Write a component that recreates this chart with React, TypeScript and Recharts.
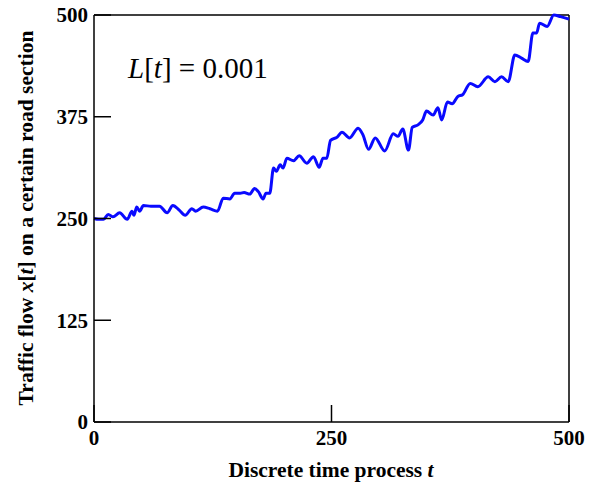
import { LineChart, Line, XAxis, YAxis, ReferenceLine, Customized } from 'recharts';

const timeSteps = [
  0, 5, 10, 15, 20, 27, 35, 40, 42, 45, 48, 52, 60, 69, 77, 83, 90, 96, 103, 107,
  115, 122, 130, 136, 143, 148, 154, 158, 164, 169, 173, 178, 181, 185, 189, 192, 196, 199, 203, 210,
  216, 224, 231, 237, 241, 245, 249, 256, 261, 269, 278, 283, 289, 296, 306, 315, 320, 325, 331, 335,
  341, 346, 350, 357, 362, 366, 372, 377, 383, 388, 396, 404, 415, 422, 429, 436, 443, 450, 457, 462,
  466, 469, 477, 484, 491, 500,
];
const flowValues = [
  250, 249, 249, 255, 252, 257, 249, 259, 254, 264, 259, 266, 265, 265, 257, 266, 260, 254, 262, 259,
  264, 262, 259, 275, 274, 281, 281, 282, 280, 287, 283, 274, 281, 281, 312, 308, 316, 312, 324, 321,
  327, 318, 326, 313, 324, 324, 346, 350, 356, 349, 361, 353, 335, 349, 333, 354, 351, 360, 334, 362,
  365, 371, 382, 377, 386, 371, 393, 391, 400, 402, 416, 412, 424, 418, 424, 418, 451, 447, 443, 478,
  478, 490, 486, 500, 498, 495,
];
const xTicks = [0, 250, 500];
const yTicks = [0, 125, 250, 375, 500];

const data = timeSteps.map((t, i) => ({ t, flow: flowValues[i] }));

const serif = '"Liberation Serif", "Times New Roman", serif';
const tickStyle = { fontFamily: serif, fontWeight: 700, fontSize: 21, fill: '#000' };

function Annotations() {
  return (
    <g fontFamily={serif} fill="#000">
      <text x={128} y={78} fontSize={29}>
        <tspan fontStyle="italic">L</tspan>[<tspan fontStyle="italic">t</tspan>] = 0.001
      </text>
      <text x={331} y={477} fontSize={21.5} fontWeight={700} textAnchor="middle">
        Discrete time process <tspan fontStyle="italic">t</tspan>
      </text>
      <text
        x={0}
        y={0}
        fontSize={21.5}
        fontWeight={700}
        textAnchor="middle"
        transform="translate(33 218) rotate(-90)"
      >
        Traffic flow <tspan fontStyle="italic">x</tspan>[<tspan fontStyle="italic">t</tspan>] on a certain road section
      </text>
    </g>
  );
}

export default function App() {
  return (
    <div style={{ position: 'absolute', left: 0, top: 0, background: '#fff' }}>
      <LineChart
        width={600}
        height={489}
        data={data}
        margin={{ top: 15, right: 31, bottom: 27, left: 0 }}
      >
        <XAxis
          dataKey="t"
          type="number"
          domain={[0, 500]}
          ticks={xTicks}
          height={40}
          tickSize={-17}
          tickMargin={25}
          stroke="#000"
          strokeWidth={1.5}
          tick={tickStyle}
          interval={0}
        />
        <YAxis
          type="number"
          domain={[0, 500]}
          ticks={yTicks}
          width={94}
          tickSize={-17}
          tickMargin={23}
          stroke="#000"
          strokeWidth={1.5}
          tick={tickStyle}
          interval={0}
        />
        <ReferenceLine y={500} stroke="#000" strokeWidth={1.5} />
        <ReferenceLine x={500} stroke="#000" strokeWidth={1.5} />
        <Line
          type="monotone"
          dataKey="flow"
          stroke="#0a0aff"
          strokeWidth={3}
          dot={false}
          isAnimationActive={false}
        />
        <Customized component={Annotations} />
      </LineChart>
    </div>
  );
}
